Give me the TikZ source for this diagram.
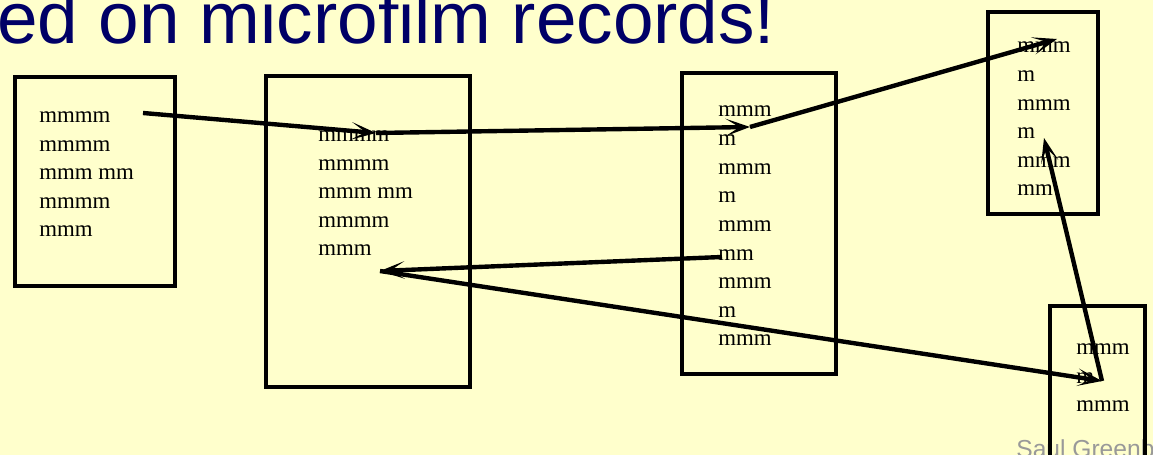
\documentclass[tikz,border=0pt]{standalone}
\usepackage{fontspec}
\setmainfont{Liberation Serif}
\newfontfamily\slidefont{Liberation Sans}
\usetikzlibrary{arrows.meta}
\definecolor{slidebg}{RGB}{255,255,204}
\definecolor{slideblue}{RGB}{0,0,102}
\begin{document}
\begin{tikzpicture}[x=0.02cm,y=-0.02cm,>={Stealth[length=14pt,width=10pt,inset=8pt]},
  card/.style={line width=2.8pt},
  lines/.style={anchor=base west,align=left,inner sep=0,font=\fontsize{13}{16.3}\selectfont},
  link/.style={->,line width=2.5pt}]
\clip (0,0) rectangle (1153,455);
\fill[slidebg] (0,0) rectangle (1153,455);
\node[anchor=base west,inner sep=0,text=slideblue,font=\slidefont\fontsize{41.5}{50}\selectfont] (title) at (-3,44) {ed on microfilm records!};
\node[anchor=base west,inner sep=0,text=black!40,font=\slidefont\fontsize{14}{16}\selectfont] (sig) at (1016,458) {Saul Greenberg};

\draw[card] (15,77) rectangle (175,286);
\draw[card] (266,76) rectangle (470,387);
\draw[card] (682,73) rectangle (836,374);
\draw[card] (988,12) rectangle (1098,214);
\draw[card] (1050,306) rectangle (1145,470);

% base = last line
\node[lines] (pageA) at (39,237) {mmmm\\mmmm\\mmm mm\\mmmm\\mmm};
\node[lines] (pageB) at (318,256) {mmmm\\mmmm\\mmm mm\\mmmm\\mmm};
\node[lines] (pageC) at (718,346) {mmm\\m\\mmm\\m\\mmm\\mm\\mmm\\m\\mmm};
\node[lines] (pageD) at (1017,196) {mmm\\m\\mmm\\m\\mmm\\mm};
\node[lines] (pageE) at (1076,412) {mmm\\m\\mmm};

\coordinate (startA) at (143,113);
\coordinate (inB) at (376,133);
\coordinate (inC) at (750,127);
\coordinate (inD) at (1057,39);
\coordinate (outC) at (722,257);
\coordinate (backB) at (380,271);
\coordinate (inE) at (1102,381);
\coordinate (upD) at (1044,138);

\draw[link] (startA)--(inB);
\draw[link] (inB)--(inC);
\draw[link] (inC)--(inD);
\draw[link] (outC)--(backB);
\draw[link] (backB)--(inE);
\draw[link] (inE)--(upD);
\end{tikzpicture}
\end{document}
